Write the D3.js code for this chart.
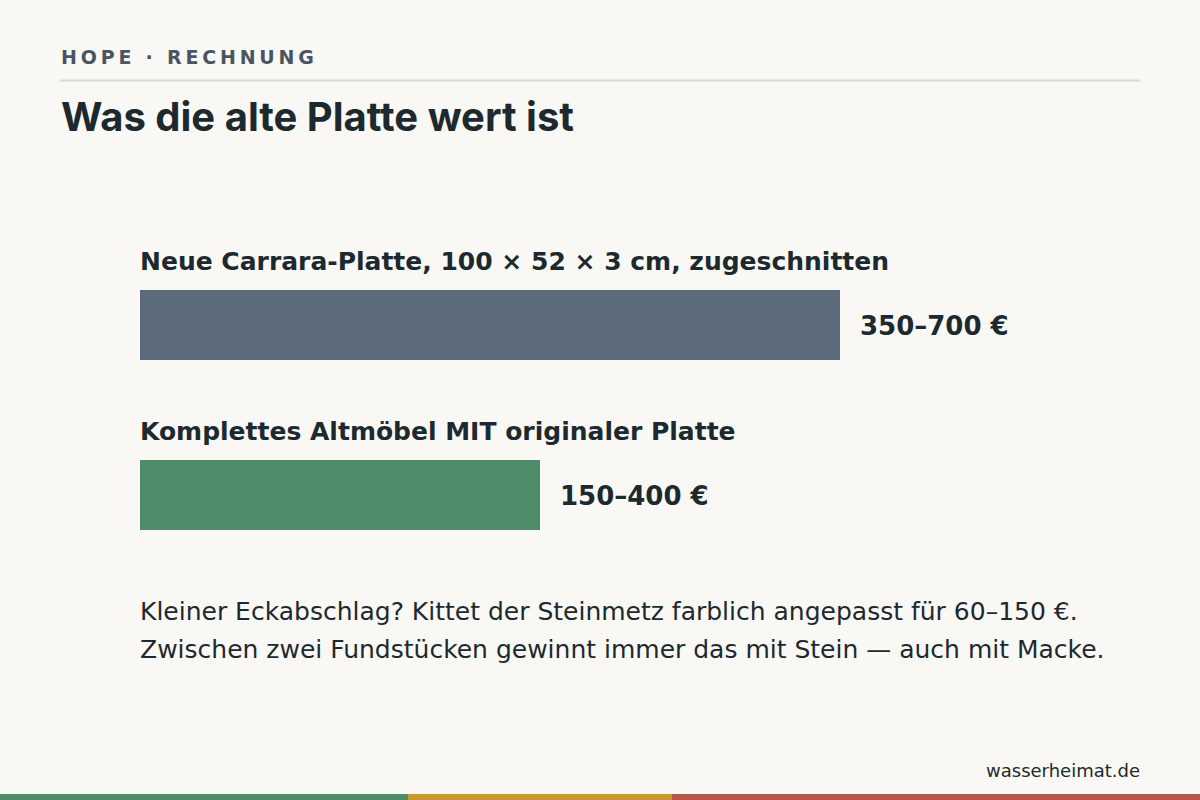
<!DOCTYPE html>
<html><head><meta charset="utf-8">
<script src="https://cdn.jsdelivr.net/npm/d3@7"></script>
<style>
html,body{margin:0;padding:0;background:#faf8f4;}
svg{display:block;}
</style></head>
<body>
<svg id="chart" width="1200" height="800"></svg>
<script>
const kicker = "HOPE · RECHNUNG";
const title = "Was die alte Platte wert ist";
const categories = ["Neue Carrara-Platte, 100 × 52 × 3 cm, zugeschnitten", "Komplettes Altmöbel MIT originaler Platte"];
const lowValues = [350, 150];
const highValues = [700, 400];
const valueLabels = ["350–700 €", "150–400 €"];
const barColors = ["#5b6b7c", "#4f8c6a"];
const noteLines = ["Kleiner Eckabschlag? Kittet der Steinmetz farblich angepasst für 60–150 €.", "Zwischen zwei Fundstücken gewinnt immer das mit Stein — auch mit Macke."];
const source = "wasserheimat.de";
const stripeShares = [408, 264, 528];
const stripeColors = ["#4f8c6a", "#c9982e", "#b5574b"];

const svg = d3.select("#chart");
const W = 1200, H = 800;
const ink = "#1c2a30";

svg.append("rect").attr("width", W).attr("height", H).attr("fill", "#faf8f4");

svg.append("text").attr("x", 61).attr("y", 64)
  .attr("font-family", "DejaVu Sans").attr("font-weight", "bold").attr("font-size", 19)
  .attr("letter-spacing", "3.8px").attr("fill", "#4a5563").text(kicker);

svg.append("line").attr("x1", 60).attr("x2", 1140).attr("y1", 80.5).attr("y2", 80.5)
  .attr("stroke", "#d9d7d3").attr("stroke-width", 2);

svg.append("text").attr("x", 61).attr("y", 131)
  .attr("font-family", "Inter").attr("font-weight", 700).attr("font-size", 40)
  .attr("fill", ink).text(title);

const x = d3.scaleLinear().domain([0, 700]).range([140, 840]);
const y = d3.scaleBand().domain(categories).range([250, 590]).paddingInner(0).paddingOuter(0);

const g = svg.append("g");
const rows = g.selectAll("g.row").data(categories).join("g").attr("class", "row")
  .attr("transform", d => `translate(0,${y(d)})`);

rows.append("text").attr("x", x(0)).attr("y", 20)
  .attr("font-family", "DejaVu Sans").attr("font-weight", "bold").attr("font-size", 25)
  .attr("fill", ink).text(d => d);

rows.append("rect").attr("x", x(0)).attr("y", 40)
  .attr("width", (d, i) => x(highValues[i]) - x(0)).attr("height", 70)
  .attr("fill", (d, i) => barColors[i]);

rows.append("text").attr("x", (d, i) => x(highValues[i]) + 20).attr("y", 85)
  .attr("font-family", "DejaVu Sans").attr("font-weight", "bold").attr("font-size", 26)
  .attr("fill", ink).text((d, i) => valueLabels[i]);

svg.append("g").selectAll("text").data(noteLines).join("text")
  .attr("x", 140).attr("y", (d, i) => 620 + i * 38)
  .attr("font-family", "DejaVu Sans").attr("font-size", 25)
  .attr("fill", ink).text(d => d);

svg.append("text").attr("x", 1140).attr("y", 777).attr("text-anchor", "end")
  .attr("font-family", "DejaVu Sans").attr("font-size", 18)
  .attr("fill", ink).text(source);

const cum = d3.cumsum(stripeShares);
const sx = d3.scaleLinear().domain([0, d3.sum(stripeShares)]).range([0, W]);
svg.append("g").selectAll("rect").data(stripeShares).join("rect")
  .attr("x", (d, i) => sx(cum[i] - d)).attr("y", 794)
  .attr("width", d => sx(d)).attr("height", 6)
  .attr("fill", (d, i) => stripeColors[i]);
</script>
</body></html>
